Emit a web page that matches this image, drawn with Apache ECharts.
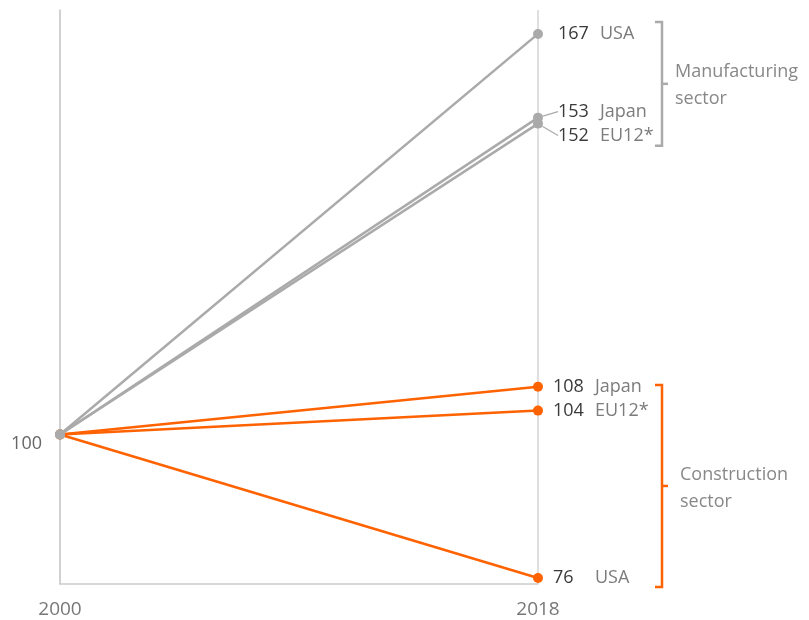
<!DOCTYPE html>
<html>
<head>
<meta charset="utf-8">
<script src="https://cdn.jsdelivr.net/npm/echarts@6/dist/echarts.min.js"></script>
<style>
  html, body { margin: 0; padding: 0; background: #fff; }
  #chart { width: 809px; height: 620px; }
</style>
</head>
<body>
<div id="chart"></div>
<script>
// Index, 2000 = 100
const years = [2000, 2018];
const baseValue = 100;

const manufacturingNames = ['USA', 'Japan', 'EU12*'];
const manufacturingValues = [167, 153, 152];

const constructionNames = ['Japan', 'EU12*', 'USA'];
const constructionValues = [108, 104, 76];

// value ranges covered by the sector brackets
const manufacturingBracket = [169, 148.3];
const constructionBracket = [108.3, 74.5];

const GREY = '#aaaaaa';
const ORANGE = '#ff6200';
const FONT = 'Open Sans';

// label nudges (px) so close end points stay readable
const manufacturingLabelDy = [0, -6, 12];
const constructionLabelDy = [0, 0, 0];

function makeSeries(name, value, color, dy, dist, guide) {
  return {
    name: name,
    type: 'line',
    data: [
      { value: [years[0], baseValue], label: { show: false }, labelLine: { show: false } },
      { value: [years[1], value] }
    ],
    symbol: 'circle',
    symbolSize: 10,
    lineStyle: { color: color, width: 2.5 },
    itemStyle: { color: color },
    z: color === GREY ? 3 : 2,
    label: {
      show: true,
      position: 'right',
      distance: dist,
      formatter: function (p) {
        return '{v|' + p.value[1] + '}{n|' + name + '}';
      },
      rich: {
        v: { fontFamily: FONT, fontSize: 18, color: '#3a3a3a', width: 42 },
        n: { fontFamily: FONT, fontSize: 18, color: '#7c7c7c' }
      }
    },
    labelLayout: { dy: dy },
    labelLine: {
      show: guide,
      lineStyle: { color: GREY, width: 1.2 }
    },
    emphasis: { disabled: true },
    animation: false
  };
}

const series = [];
manufacturingNames.forEach((n, i) => series.push(
  makeSeries(n, manufacturingValues[i], GREY, manufacturingLabelDy[i], 15, manufacturingLabelDy[i] !== 0)));
constructionNames.forEach((n, i) => series.push(
  makeSeries(n, constructionValues[i], ORANGE, constructionLabelDy[i], 10, false)));

const chart = echarts.init(document.getElementById('chart'), null, { renderer: 'canvas' });

chart.setOption({
  backgroundColor: '#ffffff',
  animation: false,
  grid: { left: 60, right: 271, top: 10, bottom: 36, containLabel: false },
  xAxis: {
    type: 'value',
    min: 2000,
    max: 2018,
    interval: 18,
    axisLine: { show: true, lineStyle: { color: '#cccccc', width: 1.5 } },
    axisTick: { show: false },
    splitLine: { show: true, lineStyle: { color: '#d4d4d4', width: 1.5 } },
    axisLabel: {
      formatter: function (v) { return String(v); },
      fontFamily: FONT, fontSize: 19, color: '#777777', margin: 16
    }
  },
  yAxis: {
    type: 'value',
    min: 75,
    max: 171,
    axisLine: { show: true, lineStyle: { color: '#cccccc', width: 1.5 } },
    axisTick: { show: false },
    splitLine: { show: false },
    axisLabel: {
      customValues: [baseValue],
      verticalAlign: 'top',
      fontFamily: FONT, fontSize: 18, color: '#666666', margin: 18
    }
  },
  series: series
});

// Sector brackets, placed from axis values
function drawBrackets() {
  const xEnd = chart.convertToPixel({ gridIndex: 0 }, [years[1], baseValue])[0];
  const bx = xEnd + 124;
  function bracket(range, color, text, textDx) {
    const y1 = chart.convertToPixel({ gridIndex: 0 }, [years[1], range[0]])[1];
    const y2 = chart.convertToPixel({ gridIndex: 0 }, [years[1], range[1]])[1];
    const ym = (y1 + y2) / 2;
    return [
      {
        type: 'polyline',
        shape: { points: [[bx - 7, y1], [bx, y1], [bx, y2], [bx - 7, y2]] },
        style: { stroke: color, lineWidth: 2.5, fill: null }
      },
      {
        type: 'line',
        shape: { x1: bx, y1: ym, x2: bx + 6, y2: ym },
        style: { stroke: color, lineWidth: 2.5 }
      },
      {
        type: 'text',
        x: bx + textDx,
        y: ym - 25,
        style: {
          text: text,
          fontFamily: FONT,
          fontSize: 18,
          lineHeight: 27,
          fill: '#888888'
        }
      }
    ];
  }
  chart.setOption({
    graphic: [].concat(
      bracket(manufacturingBracket, GREY, 'Manufacturing\nsector', 13),
      bracket(constructionBracket, ORANGE, 'Construction\nsector', 18)
    )
  });
}
drawBrackets();
</script>
</body>
</html>
